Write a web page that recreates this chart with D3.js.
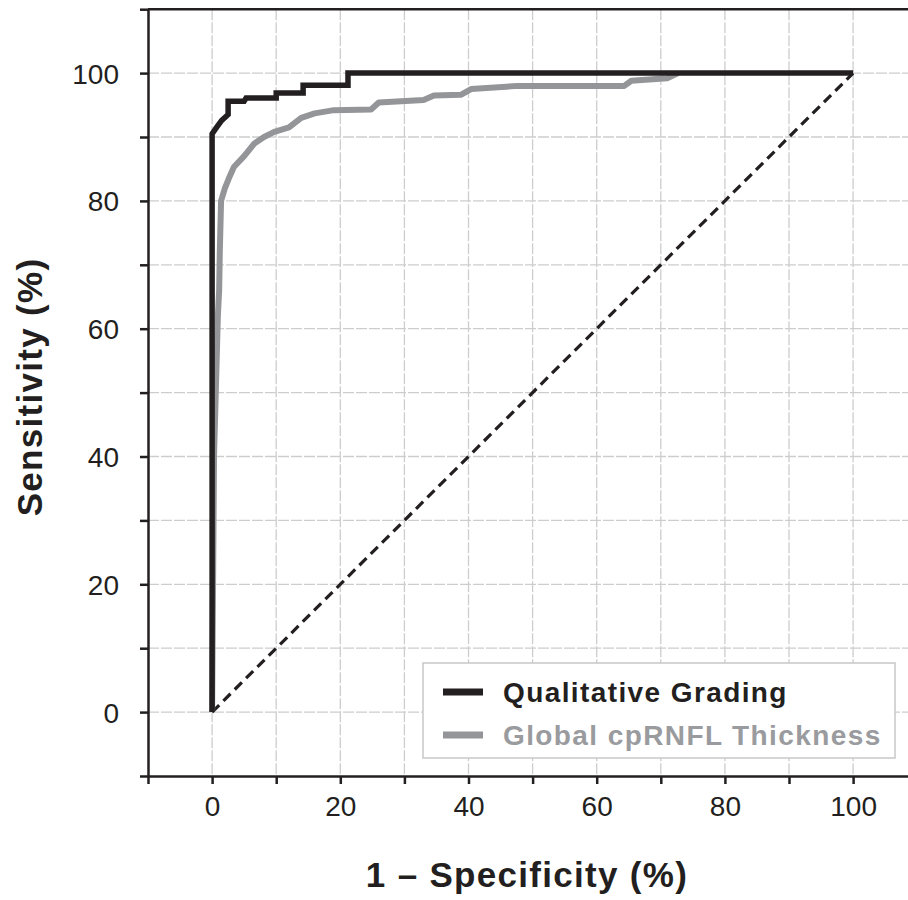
<!DOCTYPE html>
<meta charset="utf-8">
<style>

body {
  margin: 0;
  background: #fff;
}

.grid line {
  stroke: #cdcdcd;
  stroke-width: 1.3px;
  stroke-dasharray: 11,2;
}

.axis path,
.axis line {
  stroke: #231f20;
  stroke-width: 2.5px;
}

.axis text {
  font-family: "Liberation Sans", Arial, sans-serif;
  font-size: 28px;
  fill: #231f20;
}

.title {
  font-family: "Liberation Sans", Arial, sans-serif;
  font-weight: bold;
  font-size: 35px;
  fill: #231f20;
  letter-spacing: 1.3px;
}

.legend text {
  font-family: "Liberation Sans", Arial, sans-serif;
  font-weight: bold;
  font-size: 28px;
  letter-spacing: 1.4px;
}

</style>
<body>
<script src="https://d3js.org/d3.v7.min.js"></script>
<script>

// ROC curves, values in %
var qualFpr = [0, 0, 0.7, 1.5, 2.5, 2.5, 5, 5.3, 10, 10, 14.2, 14.2, 21.2, 21.2, 100];
var qualTpr = [0, 90.5, 91.5, 92.6, 93.5, 95.6, 95.6, 96.1, 96.1, 96.9, 96.9, 98.1, 98.1, 100, 100];

var rnflFpr = [0, 0.3, 0.9, 1.1, 1.2, 1.4, 2, 2.6, 3.4, 5, 6.6, 8.1, 9.7, 12, 13.9, 16, 19, 24.8, 26, 33, 34.6, 38.8, 40.4, 47.7, 64.3, 65.4, 71, 72.7];
var rnflTpr = [0, 40, 62, 66, 72, 80, 82, 83.5, 85.3, 87, 89, 90, 90.8, 91.5, 93, 93.7, 94.2, 94.3, 95.4, 95.8, 96.5, 96.6, 97.5, 98, 98, 98.8, 99.2, 100];

var chance = [[0, 0], [100, 100]];

var seriesNames = ["Qualitative Grading", "Global cpRNFL Thickness"];
var seriesColors = ["#231f20", "#939598"];

var tickVals = d3.range(-10, 111, 10);

var width = 908,
    height = 900;

var x = d3.scaleLinear().domain([-10, 110]).range([148, 917.2]);
var y = d3.scaleLinear().domain([-10, 110]).range([776, 9.2]);

var svg = d3.select("body").append("svg")
    .attr("width", width)
    .attr("height", height);

// grid
var grid = svg.append("g").attr("class", "grid");
grid.selectAll(".v")
    .data(tickVals.filter(function(d) { return d > -10; }))
  .enter().append("line")
    .attr("x1", function(d) { return x(d); })
    .attr("x2", function(d) { return x(d); })
    .attr("y1", y(110))
    .attr("y2", y(-10));
grid.selectAll(".h")
    .data(tickVals.filter(function(d) { return d > -10 && d < 110; }))
  .enter().append("line")
    .attr("x1", x(-10))
    .attr("x2", x(110))
    .attr("y1", function(d) { return y(d); })
    .attr("y2", function(d) { return y(d); });

function fmt(d) { return (d >= 0 && d <= 100 && d % 20 === 0) ? d : ""; }

var xAxis = svg.append("g")
    .attr("class", "axis")
    .attr("transform", "translate(0," + y(-10) + ")")
    .call(d3.axisBottom(x).tickValues(tickVals).tickFormat(fmt).tickSize(8).tickSizeOuter(0).tickPadding(12));

var yAxis = svg.append("g")
    .attr("class", "axis")
    .attr("transform", "translate(" + x(-10) + ",0)")
    .call(d3.axisLeft(y).tickValues(tickVals).tickFormat(fmt).tickSize(8).tickSizeOuter(0).tickPadding(21));

yAxis.selectAll("text").attr("dy", "0.36em");

// top frame line
svg.append("line")
    .attr("x1", x(-10)).attr("x2", x(110))
    .attr("y1", y(110)).attr("y2", y(110))
    .attr("stroke", "#231f20")
    .attr("stroke-width", 2.5);

var line = d3.line()
    .x(function(d) { return x(d[0]); })
    .y(function(d) { return y(d[1]); });

svg.append("path")
    .datum(chance)
    .attr("d", line)
    .attr("fill", "none")
    .attr("stroke", "#231f20")
    .attr("stroke-width", 3.2)
    .attr("stroke-dasharray", "10,6");

svg.append("path")
    .datum(d3.zip(rnflFpr, rnflTpr))
    .attr("d", line)
    .attr("fill", "none")
    .attr("stroke", seriesColors[1])
    .attr("stroke-width", 6)
    .attr("stroke-linejoin", "round");

svg.append("path")
    .datum(d3.zip(qualFpr, qualTpr))
    .attr("d", line)
    .attr("fill", "none")
    .attr("stroke", seriesColors[0])
    .attr("stroke-width", 5.5)
    .attr("stroke-linejoin", "miter");

// titles
svg.append("text")
    .attr("class", "title")
    .attr("x", 527)
    .attr("y", 887)
    .attr("text-anchor", "middle")
    .text("1 \u2013 Specificity (%)");

svg.append("text")
    .attr("class", "title")
    .attr("transform", "translate(42,387) rotate(-90)")
    .attr("text-anchor", "middle")
    .text("Sensitivity (%)");

// legend
var legend = svg.append("g").attr("class", "legend");
legend.append("rect")
    .attr("x", 423).attr("y", 663)
    .attr("width", 472).attr("height", 95)
    .attr("fill", "#fff")
    .attr("stroke", "#c8c8c8")
    .attr("stroke-width", 1.5);

var items = legend.selectAll(".item")
    .data(seriesNames)
  .enter().append("g")
    .attr("transform", function(d, i) { return "translate(443," + (692 + i * 43) + ")"; });

items.append("line")
    .attr("x1", 0).attr("x2", 40)
    .attr("stroke", function(d, i) { return seriesColors[i]; })
    .attr("stroke-width", 7);

items.append("text")
    .attr("x", 60)
    .attr("dy", "0.36em")
    .attr("fill", function(d, i) { return i ? "#9a9b9e" : "#231f20"; })
    .text(function(d) { return d; });

</script>
